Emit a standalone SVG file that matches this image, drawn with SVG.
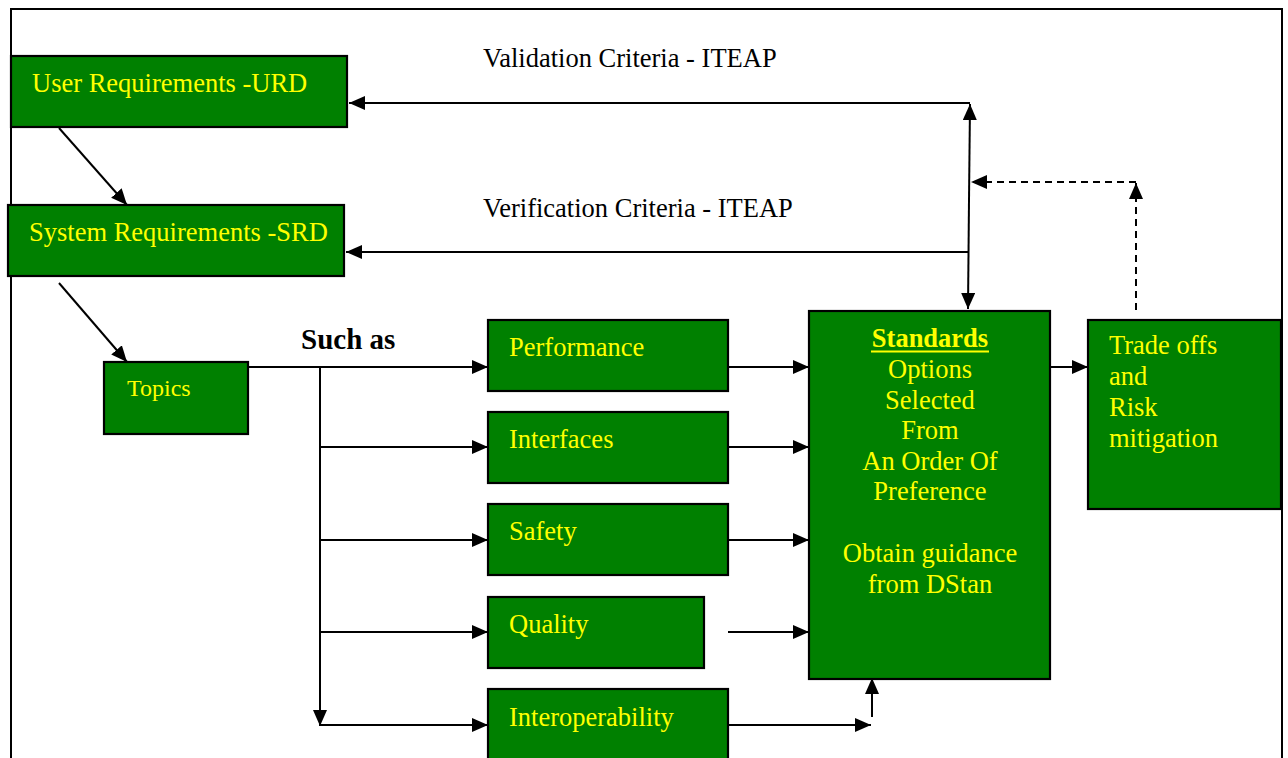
<svg xmlns="http://www.w3.org/2000/svg" width="1288" height="758" viewBox="0 0 1288 758">
<style>
.box{fill:#008000;stroke:#000;stroke-width:2.2}
.t{font-family:"Liberation Serif","Times New Roman",serif;font-size:26.5px;fill:#ffff00}
.c{text-anchor:middle}
.lbl{font-family:"Liberation Serif","Times New Roman",serif;font-size:26.5px;fill:#000}
.ln{stroke:#000;stroke-width:2;fill:none}
.dash{stroke:#000;stroke-width:2;fill:none;stroke-dasharray:7 5}
</style>
<defs>
<marker id="ah" markerUnits="userSpaceOnUse" markerWidth="17" markerHeight="15" refX="16" refY="7" orient="auto">
<path d="M0,0 L16,7 L0,14 z" fill="#000"/>
</marker>
</defs>
<rect width="1288" height="758" fill="#fff"/>
<g id="border">
<path d="M11,758 L11,9 L1282,9 L1282,758" fill="none" stroke="#000" stroke-width="2"/>
</g>
<g id="connectors">
<line class="ln" x1="970" y1="103" x2="349" y2="103" marker-end="url(#ah)"/>
<line class="ln" x1="969" y1="252" x2="346" y2="252" marker-end="url(#ah)"/>
<line class="ln" x1="969" y1="200" x2="970" y2="104" marker-end="url(#ah)"/>
<line class="ln" x1="969" y1="200" x2="968" y2="309" marker-end="url(#ah)"/>
<line class="dash" x1="1136" y1="182" x2="971" y2="182" marker-end="url(#ah)"/>
<line class="dash" x1="1136" y1="310" x2="1136" y2="183" marker-end="url(#ah)"/>
<line class="ln" x1="59" y1="128" x2="127" y2="205" marker-end="url(#ah)"/>
<line class="ln" x1="59" y1="283" x2="127" y2="362" marker-end="url(#ah)"/>
<line class="ln" x1="248" y1="367" x2="488" y2="367" marker-end="url(#ah)"/>
<line class="ln" x1="320" y1="367" x2="320" y2="726" marker-end="url(#ah)"/>
<line class="ln" x1="320" y1="447" x2="488" y2="447" marker-end="url(#ah)"/>
<line class="ln" x1="320" y1="540" x2="488" y2="540" marker-end="url(#ah)"/>
<line class="ln" x1="320" y1="632" x2="488" y2="632" marker-end="url(#ah)"/>
<line class="ln" x1="320" y1="725" x2="488" y2="725" marker-end="url(#ah)"/>
<line class="ln" x1="728" y1="367" x2="809" y2="367" marker-end="url(#ah)"/>
<line class="ln" x1="728" y1="447" x2="809" y2="447" marker-end="url(#ah)"/>
<line class="ln" x1="728" y1="540" x2="809" y2="540" marker-end="url(#ah)"/>
<line class="ln" x1="728" y1="632" x2="809" y2="632" marker-end="url(#ah)"/>
<line class="ln" x1="728" y1="725" x2="871" y2="725" marker-end="url(#ah)"/>
<line class="ln" x1="872" y1="717" x2="872" y2="678" marker-end="url(#ah)"/>
<line class="ln" x1="1047" y1="367" x2="1088" y2="367" marker-end="url(#ah)"/>
<text class="lbl" x="483" y="67">Validation Criteria - ITEAP</text>
<text class="lbl" x="483" y="217">Verification Criteria - ITEAP</text>
<text class="lbl" x="301" y="349" style="font-weight:bold;font-size:29px">Such as</text>
</g>
<g id="urd">
<rect class="box" x="11" y="56" width="336" height="71"/>
<text class="t" x="32" y="92">User Requirements -URD</text>
</g>
<g id="srd">
<rect class="box" x="8" y="205" width="336" height="71"/>
<text class="t" x="29" y="241">System Requirements -SRD</text>
</g>
<g id="topics">
<rect class="box" x="104" y="362" width="144" height="72"/>
<text class="t" x="127" y="396" style="font-size:24px">Topics</text>
</g>
<g id="performance">
<rect class="box" x="488" y="320" width="240" height="71"/>
<text class="t" x="509" y="356">Performance</text>
</g>
<g id="interfaces">
<rect class="box" x="488" y="412" width="240" height="71"/>
<text class="t" x="509" y="448">Interfaces</text>
</g>
<g id="safety">
<rect class="box" x="488" y="504" width="240" height="71"/>
<text class="t" x="509" y="540">Safety</text>
</g>
<g id="quality">
<rect class="box" x="488" y="597" width="216" height="71"/>
<text class="t" x="509" y="633">Quality</text>
</g>
<g id="interoperability">
<rect class="box" x="488" y="689" width="240" height="80"/>
<text class="t" x="509" y="726">Interoperability</text>
</g>
<g id="standards">
<rect class="box" x="809" y="311" width="241" height="368"/>
<text class="t c" x="930" y="347" style="font-weight:bold">Standards</text>
<line x1="871" y1="351.5" x2="989" y2="351.5" stroke="#ffff00" stroke-width="2"/>
<text class="t c" x="930" y="378">Options</text>
<text class="t c" x="930" y="408.5">Selected</text>
<text class="t c" x="930" y="439">From</text>
<text class="t c" x="930" y="469.5">An Order Of</text>
<text class="t c" x="930" y="500">Preference</text>
<text class="t c" x="930" y="562">Obtain guidance</text>
<text class="t c" x="930" y="592.5">from DStan</text>
</g>
<g id="tradeoffs">
<rect class="box" x="1088" y="320" width="193" height="189"/>
<text class="t" x="1109" y="354">Trade offs</text>
<text class="t" x="1109" y="385">and</text>
<text class="t" x="1109" y="416">Risk</text>
<text class="t" x="1109" y="447">mitigation</text>
</g>
</svg>
